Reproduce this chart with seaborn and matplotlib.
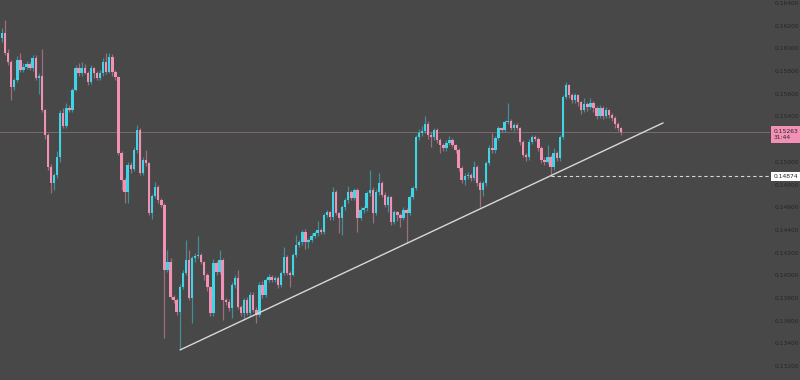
import numpy as np
import pandas as pd
import matplotlib
matplotlib.use("Agg")
import matplotlib.pyplot as plt
import seaborn as sns

# OHLC (open of each candle = previous close)
first_open = 0.16091
closes = [
    0.16135, 0.15959, 0.15880, 0.15660, 0.15721, 0.15897, 0.15809, 0.15836, 0.15862, 0.15827,
    0.15915, 0.15739, 0.15756, 0.15457, 0.15237, 0.14955, 0.14814, 0.14884, 0.15043, 0.15431,
    0.15316, 0.15475, 0.15457, 0.15633, 0.15827, 0.15783, 0.15827, 0.15783, 0.15704, 0.15827,
    0.15783, 0.15739, 0.15783, 0.15880, 0.15792, 0.15924, 0.15792, 0.15748, 0.15078, 0.14840,
    0.14734, 0.14972, 0.14937, 0.15104, 0.15281, 0.14902, 0.15016, 0.14990, 0.14549, 0.14699,
    0.14779, 0.14664, 0.14620, 0.14047, 0.14118, 0.13809, 0.13783, 0.13677, 0.13898, 0.14021,
    0.14135, 0.13801, 0.14153, 0.14170, 0.14179, 0.14118, 0.14003, 0.13898, 0.13668, 0.14109,
    0.14030, 0.14135, 0.13783, 0.13765, 0.13713, 0.13915, 0.13975, 0.13721, 0.13668, 0.13783,
    0.13668, 0.13827, 0.13695, 0.13651, 0.13915, 0.13827, 0.13959, 0.13986, 0.13959, 0.13975,
    0.13915, 0.14021, 0.14162, 0.14021, 0.14003, 0.14179, 0.14268, 0.14294, 0.14382, 0.14294,
    0.14312, 0.14347, 0.14373, 0.14400, 0.14382, 0.14532, 0.14558, 0.14514, 0.14734, 0.14549,
    0.14505, 0.14602, 0.14664, 0.14734, 0.14682, 0.14752, 0.14505, 0.14576, 0.14593, 0.14726,
    0.14752, 0.14549, 0.14734, 0.14814, 0.14708, 0.14620, 0.14690, 0.14470, 0.14558, 0.14532,
    0.14505, 0.14576, 0.14549, 0.14690, 0.14770, 0.15219, 0.15254, 0.15272, 0.15334, 0.15237,
    0.15219, 0.15281, 0.15193, 0.15149, 0.15122, 0.15166, 0.15193, 0.15149, 0.15104, 0.14946,
    0.14840, 0.14875, 0.14884, 0.14858, 0.14955, 0.14814, 0.14752, 0.14814, 0.14990, 0.15122,
    0.15104, 0.15210, 0.15298, 0.15281, 0.15351, 0.15360, 0.15298, 0.15325, 0.15298, 0.15175,
    0.15060, 0.15043, 0.15175, 0.15219, 0.15201, 0.15122, 0.15016, 0.14999, 0.15043, 0.14955,
    0.15078, 0.15034, 0.15219, 0.15571, 0.15677, 0.15589, 0.15545, 0.15589, 0.15527, 0.15457,
    0.15510, 0.15483, 0.15519, 0.15475, 0.15404, 0.15475, 0.15404, 0.15457, 0.15413, 0.15386,
    0.15334, 0.15298, 0.15263,
]
highs = [
    0.16180, 0.16250, 0.15990, 0.15900, 0.15740, 0.15930, 0.15960, 0.15870, 0.15890, 0.15880,
    0.15940, 0.15940, 0.15780, 0.15990, 0.15470, 0.15250, 0.14980, 0.14900, 0.15100, 0.15460,
    0.15475, 0.15520, 0.15500, 0.15650, 0.15850, 0.15870, 0.15880, 0.15860, 0.15800, 0.15850,
    0.15840, 0.15800, 0.15810, 0.15915, 0.15960, 0.15960, 0.15950, 0.15810, 0.15760, 0.15100,
    0.14860, 0.15000, 0.15000, 0.15130, 0.15325, 0.15300, 0.15040, 0.15105, 0.15000, 0.14720,
    0.14820, 0.14800, 0.14680, 0.14640, 0.14225, 0.14150, 0.13830, 0.13800, 0.13920, 0.14050,
    0.14310, 0.14220, 0.14170, 0.14200, 0.14350, 0.14200, 0.14130, 0.14020, 0.13910, 0.14140,
    0.14130, 0.14220, 0.14150, 0.13800, 0.13790, 0.13940, 0.14000, 0.14050, 0.13740, 0.13800,
    0.13810, 0.13850, 0.13850, 0.13720, 0.13940, 0.13950, 0.13980, 0.14010, 0.14000, 0.13990,
    0.13990, 0.14040, 0.14250, 0.14180, 0.14040, 0.14200, 0.14356, 0.14310, 0.14400, 0.14410,
    0.14330, 0.14370, 0.14390, 0.14480, 0.14420, 0.14550, 0.14580, 0.14570, 0.14780, 0.14750,
    0.14560, 0.14620, 0.14680, 0.14790, 0.14750, 0.14770, 0.14770, 0.14600, 0.14610, 0.14740,
    0.14930, 0.14780, 0.14760, 0.14900, 0.14830, 0.14730, 0.14710, 0.14700, 0.14580, 0.14570,
    0.14550, 0.14600, 0.14590, 0.14710, 0.14790, 0.15240, 0.15290, 0.15320, 0.15400, 0.15360,
    0.15260, 0.15300, 0.15300, 0.15210, 0.15170, 0.15190, 0.15230, 0.15210, 0.15160, 0.15120,
    0.14960, 0.14900, 0.14910, 0.14900, 0.15010, 0.14970, 0.14830, 0.14830, 0.15010, 0.15150,
    0.15250, 0.15230, 0.15320, 0.15310, 0.15370, 0.15520, 0.15380, 0.15345, 0.15340, 0.15310,
    0.15190, 0.15080, 0.15200, 0.15240, 0.15240, 0.15220, 0.15140, 0.15040, 0.15150, 0.15060,
    0.15120, 0.15100, 0.15240, 0.15590, 0.15700, 0.15690, 0.15610, 0.15610, 0.15600, 0.15540,
    0.15560, 0.15530, 0.15560, 0.15540, 0.15490, 0.15500, 0.15490, 0.15480, 0.15470, 0.15430,
    0.15400, 0.15350, 0.15310,
]
lows = [
    0.16060, 0.15940, 0.15850, 0.15545, 0.15630, 0.15700, 0.15790, 0.15790, 0.15820, 0.15810,
    0.15800, 0.15720, 0.15600, 0.15440, 0.15200, 0.14930, 0.14725, 0.14750, 0.14860, 0.15000,
    0.15300, 0.15300, 0.15440, 0.15440, 0.15620, 0.15760, 0.15760, 0.15770, 0.15680, 0.15690,
    0.15740, 0.15720, 0.15720, 0.15760, 0.15770, 0.15780, 0.15760, 0.15720, 0.15060, 0.14750,
    0.14640, 0.14640, 0.14900, 0.14920, 0.15080, 0.14880, 0.14880, 0.14960, 0.14530, 0.14500,
    0.14680, 0.14640, 0.14600, 0.13448, 0.14030, 0.13790, 0.13760, 0.13650, 0.13343, 0.13880,
    0.14000, 0.13780, 0.13580, 0.14120, 0.14150, 0.14100, 0.13960, 0.13860, 0.13640, 0.13640,
    0.14000, 0.14010, 0.13610, 0.13740, 0.13690, 0.13620, 0.13890, 0.13700, 0.13640, 0.13610,
    0.13650, 0.13640, 0.13680, 0.13580, 0.13630, 0.13800, 0.13810, 0.13940, 0.13940, 0.13940,
    0.13890, 0.13900, 0.14000, 0.14000, 0.13900, 0.13990, 0.14160, 0.14250, 0.14270, 0.14230,
    0.14240, 0.14290, 0.14330, 0.14350, 0.14360, 0.14360, 0.14510, 0.14490, 0.14490, 0.14530,
    0.14370, 0.14355, 0.14580, 0.14640, 0.14660, 0.14660, 0.14380, 0.14490, 0.14550, 0.14570,
    0.14700, 0.14460, 0.14530, 0.14710, 0.14690, 0.14600, 0.14560, 0.14440, 0.14450, 0.14480,
    0.14430, 0.14490, 0.14285, 0.14530, 0.14670, 0.14750, 0.15190, 0.15230, 0.15250, 0.15200,
    0.15130, 0.15190, 0.15170, 0.15080, 0.15100, 0.15100, 0.15150, 0.15130, 0.15080, 0.14920,
    0.14810, 0.14800, 0.14850, 0.14830, 0.14840, 0.14790, 0.14600, 0.14700, 0.14790, 0.14970,
    0.15080, 0.15080, 0.15190, 0.15260, 0.15260, 0.15330, 0.15280, 0.15270, 0.15280, 0.15150,
    0.15040, 0.15010, 0.15020, 0.15160, 0.15180, 0.15100, 0.14990, 0.14970, 0.14980, 0.14874,
    0.14930, 0.15010, 0.15010, 0.15200, 0.15550, 0.15560, 0.15520, 0.15520, 0.15490, 0.15420,
    0.15440, 0.15450, 0.15470, 0.15440, 0.15380, 0.15390, 0.15380, 0.15390, 0.15390, 0.15360,
    0.15300, 0.15270, 0.15240,
]

last_price = 0.15263
last_time = "31:44"
support_level = 0.14874
support_start = 179
trend_x = [58.1, 215.7]
trend_y = [0.13343, 0.15343]
tick_values = [0.164, 0.162, 0.160, 0.158, 0.156, 0.154, 0.150, 0.148,
               0.146, 0.144, 0.142, 0.140, 0.138, 0.136, 0.134, 0.132]

BG = "#484848"
UP = "#3fd4e6"
DOWN = "#f390b5"
LABEL = "#262626"

df = pd.DataFrame({"close": closes, "high": highs, "low": lows})
df["open"] = [first_open] + closes[:-1]
df["color"] = np.where(df["close"] >= df["open"], UP, DOWN)
body_lo = df[["open", "close"]].min(axis=1)
body_h = (df["close"] - df["open"]).abs().clip(lower=0.00009)

sns.set_theme(style="dark", rc={"axes.facecolor": BG, "figure.facecolor": BG})
fig = plt.figure(figsize=(8, 3.8), dpi=100)
ax = fig.add_axes([0, 0, 770 / 800, 1])

# wicks then bodies
ax.vlines(df.index, df["low"], df["high"], colors=df["color"], linewidth=0.9, alpha=0.5)
ax.bar(df.index, body_h, bottom=body_lo, width=0.78, color=df["color"], linewidth=0)

x_right = 250.6
ax.set_xlim(-0.65, x_right)
ax.set_ylim(0.13078, 0.16426)

# current price line + support level
ax.axhline(last_price, color="#7d6a70", linewidth=0.7, zorder=0)
ax.hlines(support_level, support_start, x_right, colors="#d6d6d6",
          linestyles=(0, (3, 2.5)), linewidth=0.8)

# trendline
sns.lineplot(x=trend_x, y=trend_y, ax=ax, color="#d8d8d8", linewidth=1.0)

ax.yaxis.tick_right()
ax.set_yticks(tick_values)
ax.set_yticklabels([f"{v:.5f}" for v in tick_values])
ax.tick_params(axis="y", length=0, pad=3, labelsize=4.3, labelcolor=LABEL)
ax.set_xticks([])
ax.grid(False)
for s in ax.spines.values():
    s.set_visible(False)

ytr = ax.get_yaxis_transform()
ax.annotate(f"{last_price:.5f}\n{last_time}", xy=(1, last_price), xycoords=ytr,
            xytext=(2.5, 2.2), textcoords="offset points", ha="left", va="top",
            fontsize=4.3, color=LABEL, linespacing=1.3, annotation_clip=False,
            bbox=dict(boxstyle="square,pad=0.45", fc=DOWN, ec="none"))
ax.annotate(f"{support_level:.5f}", xy=(1, support_level), xycoords=ytr,
            xytext=(2.5, 0), textcoords="offset points", ha="left", va="center",
            fontsize=4.3, color=LABEL, annotation_clip=False,
            bbox=dict(boxstyle="square,pad=0.35", fc="white", ec="none"))

fig.savefig("out.png", dpi=100, facecolor=BG)
